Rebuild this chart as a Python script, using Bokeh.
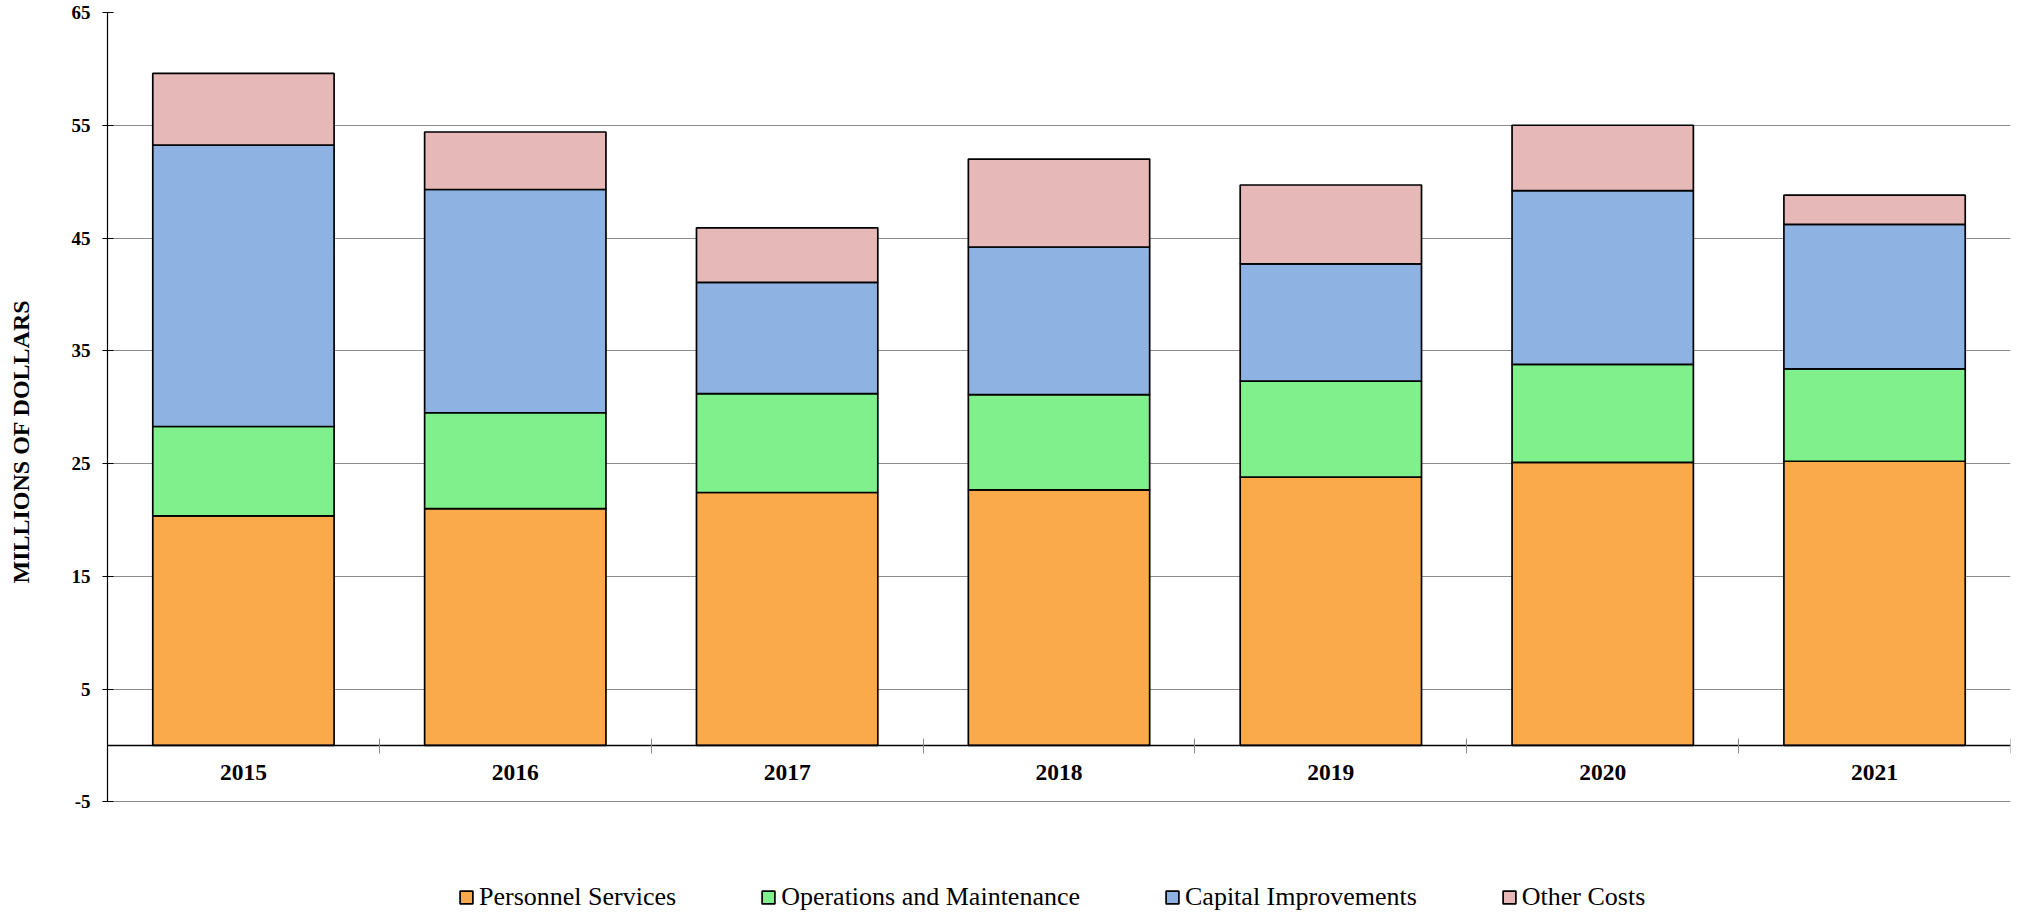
import math
from bokeh.plotting import figure
from bokeh.models import (ColumnDataSource, Range1d, LinearAxis, FixedTicker,
                          Legend, LegendItem, Label)
from bokeh.core.properties import value
from bokeh.embed import file_html
from bokeh.resources import INLINE

# ---- data (millions of dollars) ----
years = ["2015", "2016", "2017", "2018", "2019", "2020", "2021"]
personnel = [20.35, 21.0, 22.43, 22.66, 23.8, 25.1, 25.2]
operations = [7.93, 8.5, 8.77, 8.44, 8.5, 8.7, 8.2]
capital = [24.97, 19.8, 9.87, 13.1, 10.4, 15.4, 12.8]
other = [6.35, 5.1, 4.83, 7.8, 7.0, 5.8, 2.6]
series_names = ["Personnel Services", "Operations and Maintenance",
                "Capital Improvements", "Other Costs"]
y_ticks = [-5, 5, 15, 25, 35, 45, 55, 65]

colors = ["#FAAA4B", "#80F08C", "#8EB3E2", "#E6B8B8"]
SERIF = "Liberation Serif"

n = len(years)
xs = [i + 0.5 for i in range(n)]
keys = ["personnel", "operations", "capital", "other"]
source = ColumnDataSource(dict(x=xs, years=years, personnel=personnel,
                               operations=operations, capital=capital, other=other))

# frame extends to the bottom of the page so the legend can sit inside it
p = figure(width=2018, height=914, output_backend="svg", toolbar_location=None,
           x_range=Range1d(0, n), y_range=Range1d(-15, y_ticks[-1]),
           x_axis_location=None,
           min_border_left=107, min_border_right=8, min_border_top=12,
           min_border_bottom=0)
p.outline_line_color = None
p.background_fill_color = "white"
p.border_fill_color = "white"

rs = p.vbar_stack(keys, x="x", width=0.667, source=source, fill_color=colors,
                  line_color="black", line_width=1.7)

# y axis
ya = p.yaxis[0]
ya.ticker = FixedTicker(ticks=y_ticks)
ya.bounds = (y_ticks[0], y_ticks[-1])
ya.major_label_overrides = {t: str(t) for t in y_ticks}
ya.axis_line_color = "black"
ya.axis_line_width = 1.2
ya.major_tick_line_color = "black"
ya.major_tick_in = 6
ya.major_tick_out = 5
ya.minor_tick_line_color = None
ya.major_label_text_font = SERIF
ya.major_label_text_font_style = "bold"
ya.major_label_text_font_size = "19px"
ya.major_label_text_color = "black"
ya.major_label_standoff = 12

ylabel = Label(text="MILLIONS OF DOLLARS", x=20, y=441, x_units="canvas", y_units="canvas",
               angle=math.pi / 2, text_align="center", text_baseline="middle",
               text_font=SERIF, text_font_style="bold", text_font_size="24px",
               text_color="black")
p.add_layout(ylabel, "left")

p.ygrid.ticker = FixedTicker(ticks=y_ticks)
p.ygrid.grid_line_color = "#8c8c8c"
p.ygrid.grid_line_width = 1
p.xgrid.grid_line_color = None

# category boundary ticks along the zero line
bound_axis = LinearAxis(fixed_location=0, ticker=FixedTicker(ticks=list(range(n + 1))),
                        axis_line_color="black", axis_line_width=1.5,
                        major_tick_line_color="#8c8c8c", major_tick_in=8, major_tick_out=7,
                        minor_tick_line_color=None, major_label_text_color=None,
                        major_label_standoff=0, major_label_text_font_size="1px")
p.add_layout(bound_axis, "above")

# year labels under the zero line
p.text(x="x", y=0, text="years", source=source, y_offset=27,
       text_align="center", text_baseline="middle",
       text_font=value(SERIF), text_font_style="bold", text_font_size="23.5px",
       text_color="black")

# legend
lg = Legend(items=[LegendItem(label=nm, renderers=[r]) for nm, r in zip(series_names, rs)])
lg.orientation = "horizontal"
lg.location = (351, 2)
lg.border_line_color = None
lg.background_fill_alpha = 0
lg.padding = 0
lg.margin = 0
lg.glyph_width = 16
lg.glyph_height = 16
lg.label_standoff = 5
lg.spacing = 84
lg.label_text_font = SERIF
lg.label_text_font_size = "26px"
lg.label_text_color = "black"
p.add_layout(lg, "center")

open("out.html", "w").write(file_html(p, INLINE))
